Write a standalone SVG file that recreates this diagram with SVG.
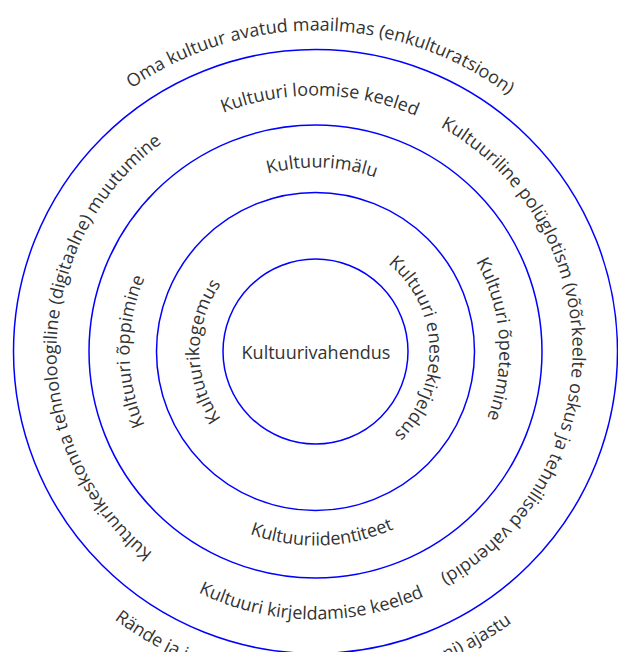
<svg xmlns="http://www.w3.org/2000/svg" width="618" height="652" viewBox="0 0 618 652">
<style>
.ring{fill:none;stroke:#0000ff;stroke-width:1.5}
text{font-family:"Open Sans","Liberation Sans",sans-serif;font-size:18px;fill:#333}
.arc{text-anchor:middle}
</style>
<defs>
<path id="cw321" d="M315.5,672.5 A321,321 0 1 1 315.5,30.5 A321,321 0 1 1 315.5,672.5"/>
<path id="ccw335" d="M315.5,16.5 A335,335 0 1 0 315.5,686.5 A335,335 0 1 0 315.5,16.5"/>
<path id="cw256" d="M315.5,607.5 A256,256 0 1 1 315.5,95.5 A256,256 0 1 1 315.5,607.5"/>
<path id="cw257" d="M315.5,608.5 A257,257 0 1 1 315.5,94.5 A257,257 0 1 1 315.5,608.5"/>
<path id="ccw268" d="M315.5,83.5 A268,268 0 1 0 315.5,619.5 A268,268 0 1 0 315.5,83.5"/>
<path id="cw259" d="M315.5,610.5 A259,259 0 1 1 315.5,92.5 A259,259 0 1 1 315.5,610.5"/>
<path id="cw184" d="M315.5,535.5 A184,184 0 1 1 315.5,167.5 A184,184 0 1 1 315.5,535.5"/>
<path id="ccw194" d="M315.5,157.5 A194,194 0 1 0 315.5,545.5 A194,194 0 1 0 315.5,157.5"/>
<path id="cw186" d="M315.5,537.5 A186,186 0 1 1 315.5,165.5 A186,186 0 1 1 315.5,537.5"/>
<path id="cw116" d="M315.5,467.5 A116,116 0 1 1 315.5,235.5 A116,116 0 1 1 315.5,467.5"/>
<path id="cw114" d="M315.5,465.5 A114,114 0 1 1 315.5,237.5 A114,114 0 1 1 315.5,465.5"/>
</defs>
<rect width="618" height="652" fill="#fff"/>
<g id="outer-context">
<circle class="ring" cx="315.5" cy="351.5" r="302"/>
<text class="arc" transform="rotate(1 315.5 351.5)"><textPath href="#cw321" startOffset="50%">Oma kultuur avatud maailmas (enkulturatsioon)</textPath></text>
<text class="arc" transform="rotate(0.5 315.5 351.5)"><textPath href="#ccw335" startOffset="50%">Rände ja infoühiskonna (globaliseerumiseni) ajastu</textPath></text>
</g>
<g id="ring-languages">
<circle class="ring" cx="315.5" cy="351.5" r="226.5"/>
<text class="arc" transform="rotate(1 315.5 351.5)"><textPath href="#cw256" startOffset="50%">Kultuuri loomise keeled</textPath></text>
<text class="arc" transform="rotate(90 315.5 351.5)"><textPath href="#cw257" startOffset="50%">Kultuuriline polüglotism (võõrkeelte oskus ja tehnilised vahendid)</textPath></text>
<text class="arc" transform="rotate(1 315.5 351.5)"><textPath href="#ccw268" startOffset="50%">Kultuuri kirjeldamise keeled</textPath></text>
<text class="arc" transform="rotate(-88.7 315.5 351.5)"><textPath href="#cw259" startOffset="50%">Kultuurikeskonna tehnoloogiline (digitaalne) muutumine</textPath></text>
</g>
<g id="ring-memory">
<circle class="ring" cx="315.5" cy="351.5" r="159"/>
<text class="arc" transform="rotate(2 315.5 351.5)"><textPath href="#cw184" startOffset="50%">Kultuurimälu</textPath></text>
<text class="arc" transform="rotate(86 315.5 351.5)"><textPath href="#cw184" startOffset="50%">Kultuuri õpetamine</textPath></text>
<text class="arc" transform="rotate(-2 315.5 351.5)"><textPath href="#ccw194" startOffset="50%">Kultuuriidentiteet</textPath></text>
<text class="arc" transform="rotate(-90 315.5 351.5)"><textPath href="#cw186" startOffset="50%">Kultuuri õppimine</textPath></text>
</g>
<g id="ring-experience">
<circle class="ring" cx="315.5" cy="351.5" r="92.5"/>
<text class="arc" transform="rotate(-90 315.5 351.5)"><textPath href="#cw116" startOffset="50%">Kultuurikogemus</textPath></text>
<text class="arc" transform="rotate(88 315.5 351.5)"><textPath href="#cw114" startOffset="50%">Kultuuri enesekirjeldus</textPath></text>
</g>
<g id="core">
<text x="316" y="358.5" text-anchor="middle">Kultuurivahendus</text>
</g>
</svg>
